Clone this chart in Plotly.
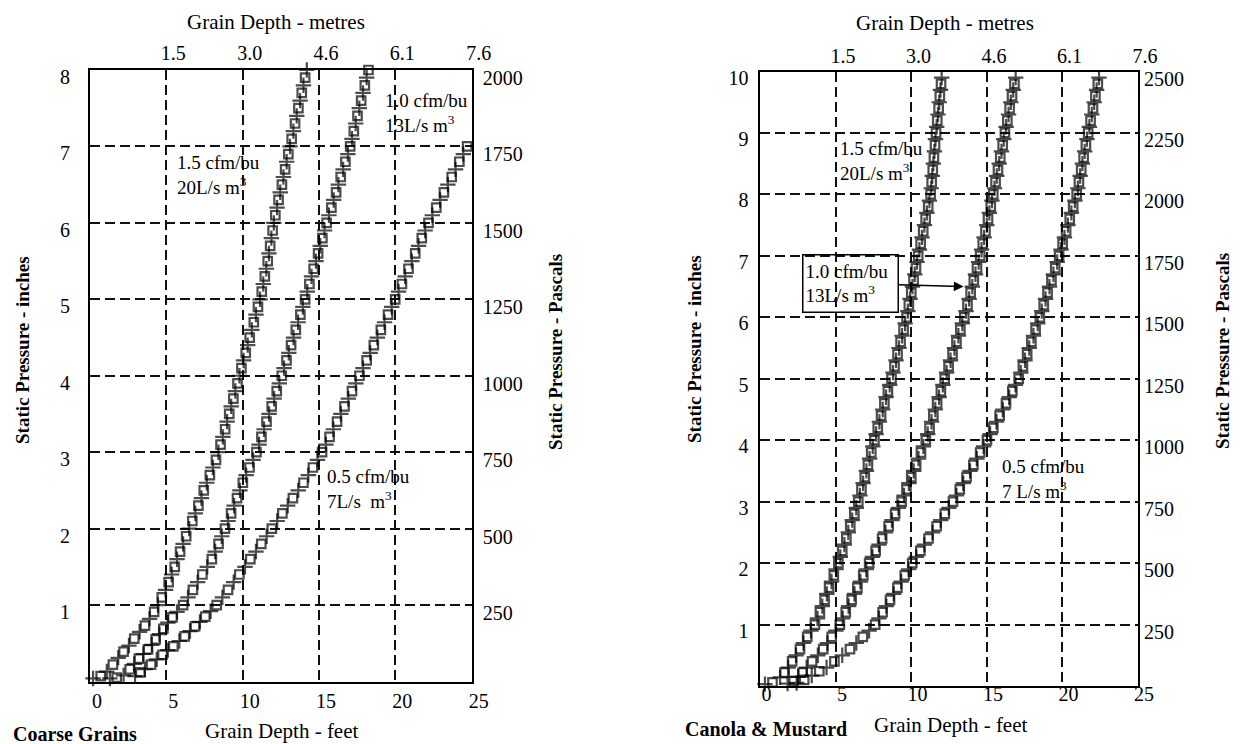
import plotly.graph_objects as go

W, H = 1240, 744
FONT = "Liberation Serif"

# ---------------- data ----------------
x_ticks = [0, 5, 10, 15, 20, 25]
x_tick_text = ["0", "5", "10", "15", "20", "25"]
metre_ticks = [5, 10, 15, 20, 25]
metre_text = ["1.5", "3.0", "4.6", "6.1", "7.6"]

left_in_ticks = [1, 2, 3, 4, 5, 6, 7, 8]
left_pa_ticks = [250, 500, 750, 1000, 1250, 1500, 1750, 2000]
right_in_ticks = [1, 2, 3, 4, 5, 6, 7, 8, 9, 10]
right_pa_ticks = [250, 500, 750, 1000, 1250, 1500, 1750, 2000, 2250, 2500]

# pressure levels (inches of water) at which points were read
left_levels = [1.1, 1.2, 1.3, 1.4, 1.5, 1.6, 1.7, 1.8, 1.9, 2.0,
               2.1, 2.2, 2.3, 2.4, 2.5, 2.6, 2.7, 2.8, 2.9, 3.0,
               3.1, 3.2, 3.3, 3.4, 3.5, 3.6, 3.7, 3.8, 3.9, 4.0,
               4.1, 4.2, 4.3, 4.4, 4.5, 4.6, 4.7, 4.8, 4.9, 5.0,
               5.1, 5.2, 5.3, 5.4, 5.5, 5.6, 5.7, 5.8, 5.9, 6.0,
               6.1, 6.2, 6.3, 6.4, 6.5, 6.6, 6.7, 6.8, 6.9, 7.0,
               7.1, 7.2, 7.3, 7.4, 7.5, 7.6, 7.7, 7.8, 7.9, 8.0]
right_levels = [1.1, 1.2, 1.3, 1.4, 1.5, 1.6, 1.7, 1.8, 1.9, 2.0,
                2.1, 2.2, 2.3, 2.4, 2.5, 2.6, 2.7, 2.8, 2.9, 3.0,
                3.1, 3.2, 3.3, 3.4, 3.5, 3.6, 3.7, 3.8, 3.9, 4.0,
                4.1, 4.2, 4.3, 4.4, 4.5, 4.6, 4.7, 4.8, 4.9, 5.0,
                5.1, 5.2, 5.3, 5.4, 5.5, 5.6, 5.7, 5.8, 5.9, 6.0,
                6.1, 6.2, 6.3, 6.4, 6.5, 6.6, 6.7, 6.8, 6.9, 7.0,
                7.1, 7.2, 7.3, 7.4, 7.5, 7.6, 7.7, 7.8, 7.9, 8.0,
                8.1, 8.2, 8.3, 8.4, 8.5, 8.6, 8.7, 8.8, 8.9, 9.0,
                9.1, 9.2, 9.3, 9.4, 9.5, 9.6, 9.7, 9.8, 9.9]

# ---- Coarse grains (left chart) : grain depth in feet ----
cg15_low_x = [0.2, 0.7, 1.1, 1.5, 1.85, 2.2, 2.55, 2.9, 3.25, 3.6, 3.9, 4.2, 4.45]
cg15_low_y = [0.04, 0.07, 0.13, 0.22, 0.31, 0.39, 0.47, 0.56, 0.65, 0.73, 0.82, 0.91, 1.0]
cg15_x = [4.7, 4.95, 5.15, 5.35, 5.55, 5.7, 5.9, 6.1, 6.3, 6.5,
          6.7, 6.9, 7.1, 7.3, 7.45, 7.65, 7.85, 8.05, 8.25, 8.41,
          8.55, 8.7, 8.85, 8.98, 9.12, 9.25, 9.39, 9.52, 9.66, 9.79,
          9.92, 10.06, 10.2, 10.33, 10.46, 10.6, 10.73, 10.87, 11.0, 11.14,
          11.25, 11.35, 11.45, 11.55, 11.64, 11.72, 11.8, 11.88, 11.96, 12.04,
          12.14, 12.25, 12.35, 12.46, 12.57, 12.67, 12.78, 12.88, 12.99, 13.1,
          13.21, 13.32, 13.43, 13.54, 13.65, 13.76, 13.87, 13.98, 14.09, 14.2]

cg10_low_x = [1.3, 1.75, 2.2, 2.6, 2.9, 3.2, 3.5, 3.8, 4.05, 4.3, 4.55, 4.8, 5.1, 5.4, 5.7, 6.1]
cg10_low_y = [0.04, 0.05, 0.08, 0.16, 0.23, 0.3, 0.36, 0.42, 0.48, 0.55, 0.62, 0.69, 0.77, 0.84, 0.91, 1.0]
cg10_x = [6.42, 6.74, 7.05, 7.36, 7.68, 7.98, 8.2, 8.42, 8.63, 8.84,
          9.04, 9.24, 9.44, 9.63, 9.82, 10.01, 10.23, 10.45, 10.68, 10.9,
          11.07, 11.23, 11.4, 11.56, 11.73, 11.9, 12.06, 12.23, 12.4, 12.56,
          12.71, 12.87, 13.02, 13.17, 13.33, 13.48, 13.63, 13.78, 13.94, 14.09,
          14.23, 14.37, 14.51, 14.65, 14.8, 14.94, 15.08, 15.22, 15.36, 15.5,
          15.65, 15.81, 15.96, 16.12, 16.27, 16.42, 16.58, 16.73, 16.89, 17.04,
          17.16, 17.28, 17.4, 17.52, 17.64, 17.76, 17.88, 18.0, 18.12, 18.24]

cg05_low_x = [2.95, 3.3, 3.6, 4.0, 4.37, 4.75, 5.1, 5.46, 5.85, 6.2, 6.55, 6.88, 7.2, 7.55, 7.9, 8.3]
cg05_low_y = [0.07, 0.12, 0.16, 0.22, 0.29, 0.35, 0.41, 0.46, 0.53, 0.59, 0.66, 0.72, 0.78, 0.85, 0.92, 1.0]
cg05_x = [8.67, 9.04, 9.41, 9.78, 10.15, 10.5, 10.87, 11.22, 11.57, 11.91,
          12.26, 12.6, 12.95, 13.29, 13.64, 13.98, 14.3, 14.6, 14.9, 15.2,
          15.45, 15.69, 15.94, 16.18, 16.43, 16.67, 16.92, 17.16, 17.41, 17.65,
          17.88, 18.12, 18.35, 18.59, 18.82, 19.05, 19.29, 19.52, 19.76, 19.99,
          20.21, 20.43, 20.64, 20.86, 21.08, 21.3, 21.52, 21.73, 21.95, 22.17,
          22.42, 22.68, 22.93, 23.18, 23.44, 23.69, 23.94, 24.19, 24.45, 24.7]

# ---- Canola & Mustard (right chart) ----
cm15_low_x = [0.3, 0.8, 1.3, 1.6, 1.84, 2.1, 2.36, 2.62, 2.85, 3.1, 3.35, 3.61]
cm15_low_y = [0.03, 0.06, 0.14, 0.22, 0.3, 0.4, 0.5, 0.6, 0.7, 0.8, 0.9, 1.0]
cm15_x = [3.78, 3.94, 4.1, 4.25, 4.4, 4.55, 4.71, 4.86, 5.01, 5.16,
          5.29, 5.42, 5.56, 5.69, 5.82, 5.95, 6.08, 6.22, 6.35, 6.48,
          6.59, 6.69, 6.8, 6.91, 7.02, 7.12, 7.23, 7.34, 7.44, 7.55,
          7.66, 7.77, 7.88, 7.99, 8.1, 8.21, 8.32, 8.44, 8.56, 8.68,
          8.78, 8.88, 8.98, 9.08, 9.18, 9.28, 9.38, 9.48, 9.58, 9.68,
          9.76, 9.83, 9.91, 9.99, 10.07, 10.14, 10.22, 10.3, 10.37, 10.45,
          10.53, 10.61, 10.7, 10.78, 10.86, 10.94, 11.02, 11.11, 11.19, 11.27,
          11.31, 11.34, 11.38, 11.41, 11.45, 11.49, 11.52, 11.56, 11.59, 11.63,
          11.67, 11.71, 11.76, 11.8, 11.84, 11.88, 11.92, 11.96, 12.0]

cm10_low_x = [1.8, 2.2, 2.5, 2.8, 3.06, 3.42, 3.8, 4.16, 4.44, 4.72, 5.0, 5.26]
cm10_low_y = [0.04, 0.08, 0.15, 0.22, 0.3, 0.4, 0.5, 0.6, 0.7, 0.8, 0.9, 1.0]
cm10_x = [5.45, 5.65, 5.84, 6.04, 6.23, 6.42, 6.62, 6.81, 7.01, 7.2,
          7.42, 7.63, 7.85, 8.06, 8.28, 8.49, 8.71, 8.92, 9.14, 9.35,
          9.51, 9.67, 9.83, 9.99, 10.15, 10.31, 10.47, 10.63, 10.79, 10.95,
          11.08, 11.2, 11.33, 11.45, 11.58, 11.7, 11.83, 11.95, 12.08, 12.2,
          12.33, 12.46, 12.59, 12.72, 12.85, 12.98, 13.11, 13.24, 13.37, 13.5,
          13.61, 13.71, 13.82, 13.92, 14.03, 14.13, 14.24, 14.34, 14.45, 14.55,
          14.64, 14.72, 14.81, 14.9, 14.99, 15.07, 15.16, 15.25, 15.33, 15.42,
          15.5, 15.57, 15.65, 15.73, 15.81, 15.88, 15.96, 16.04, 16.11, 16.19,
          16.27, 16.35, 16.43, 16.5, 16.58, 16.66, 16.74, 16.82, 16.9]

cm05_low_x = [2.4, 2.9, 3.4, 3.9, 4.38, 4.9, 5.42, 5.93, 6.35, 6.78, 7.2, 7.6]
cm05_low_y = [0.05, 0.1, 0.17, 0.24, 0.3, 0.4, 0.5, 0.6, 0.7, 0.8, 0.9, 1.0]
cm05_x = [7.85, 8.09, 8.34, 8.58, 8.83, 9.07, 9.32, 9.56, 9.81, 10.05,
          10.32, 10.59, 10.86, 11.13, 11.4, 11.67, 11.94, 12.21, 12.48, 12.75,
          12.98, 13.2, 13.43, 13.65, 13.88, 14.1, 14.33, 14.55, 14.78, 15.0,
          15.21, 15.42, 15.63, 15.84, 16.05, 16.26, 16.47, 16.68, 16.89, 17.1,
          17.24, 17.38, 17.52, 17.66, 17.8, 17.94, 18.08, 18.22, 18.36, 18.5,
          18.63, 18.76, 18.88, 19.01, 19.14, 19.27, 19.4, 19.52, 19.65, 19.78,
          19.9, 20.01, 20.13, 20.24, 20.36, 20.48, 20.59, 20.71, 20.82, 20.94,
          21.02, 21.09, 21.17, 21.24, 21.32, 21.4, 21.47, 21.55, 21.62, 21.7,
          21.78, 21.86, 21.94, 22.02, 22.1, 22.18, 22.26, 22.34, 22.42]

# ---------------- figure ----------------
fig = go.Figure()


def add_curve(low_x, low_y, xs, levels, xa, ya):
    xx = list(low_x) + list(xs)
    yy = list(low_y) + list(levels[:len(xs)])
    n = len(xx)
    syms = ["cross-thin-open" if i % 2 == 0 else "square-open" for i in range(n)]
    sizes = [11 if i % 2 == 0 else 8.5 for i in range(n)]
    fig.add_trace(go.Scatter(
        x=xx, y=yy, xaxis=xa, yaxis=ya, mode="markers",
        marker=dict(symbol=syms, size=sizes, color="black",
                    line=dict(color="black", width=2.2)),
        showlegend=False, hoverinfo="skip", cliponaxis=False))


add_curve(cg15_low_x, cg15_low_y, cg15_x, left_levels, "x", "y")
add_curve(cg10_low_x, cg10_low_y, cg10_x, left_levels, "x", "y")
add_curve(cg05_low_x, cg05_low_y, cg05_x, left_levels, "x", "y")
add_curve(cm15_low_x, cm15_low_y, cm15_x, right_levels, "x3", "y3")
add_curve(cm10_low_x, cm10_low_y, cm10_x, right_levels, "x3", "y3")
add_curve(cm05_low_x, cm05_low_y, cm05_x, right_levels, "x3", "y3")

# invisible traces so secondary axes are drawn
for xa, ya in [("x2", "y"), ("x", "y2"), ("x4", "y3"), ("x3", "y4")]:
    fig.add_trace(go.Scatter(x=[None], y=[None], xaxis=xa, yaxis=ya, mode="markers",
                             showlegend=False, hoverinfo="skip"))

tickfont = dict(family=FONT, size=20, color="black")
base = dict(zeroline=False, ticks="", tickfont=tickfont, fixedrange=True, automargin=False)
main = dict(base, showline=True, linecolor="black", linewidth=2, mirror=True,
            showgrid=True, gridcolor="#111111", gridwidth=1.8, griddash="10px,5px")
sec = dict(base, showline=False, showgrid=False)

L_x0, L_x1, L_y0, L_y1 = 90, 471.7, 70, 681.5
R_x0, R_x1, R_y0, R_y1 = 760.4, 1138, 71.5, 686

fig.update_layout(
    width=W, height=H, margin=dict(l=0, r=0, t=0, b=0, pad=0, autoexpand=False),
    paper_bgcolor="white", plot_bgcolor="white",
    xaxis=dict(main, domain=[L_x0 / W, L_x1 / W], range=[0, 25], anchor="y",
               tickvals=x_ticks, ticktext=x_tick_text, ticklabelshift=7, ticklabelstandoff=0),
    yaxis=dict(main, domain=[1 - L_y1 / H, 1 - L_y0 / H], range=[0, 8], anchor="x",
               tickvals=left_in_ticks, ticktext=[str(v) for v in left_in_ticks],
               ticklabelshift=7, ticklabelstandoff=14),
    xaxis2=dict(sec, overlaying="x", side="top", anchor="y", range=[0, 25],
                tickvals=metre_ticks, ticktext=metre_text, ticklabelshift=7, ticklabelstandoff=5),
    yaxis2=dict(sec, overlaying="y", side="right", anchor="x", range=[0, 2000],
                tickvals=left_pa_ticks, ticktext=[str(v) for v in left_pa_ticks],
                ticklabelshift=8, ticklabelstandoff=10),
    xaxis3=dict(main, domain=[R_x0 / W, R_x1 / W], range=[0, 25], anchor="y3",
                tickvals=x_ticks, ticktext=x_tick_text, ticklabelshift=6, ticklabelstandoff=-11),
    yaxis3=dict(main, domain=[1 - R_y1 / H, 1 - R_y0 / H], range=[0, 10], anchor="x3",
                tickvals=right_in_ticks, ticktext=[str(v) for v in right_in_ticks],
                ticklabelshift=6, ticklabelstandoff=6),
    xaxis4=dict(sec, overlaying="x3", side="top", anchor="y3", range=[0, 25],
                tickvals=metre_ticks, ticktext=metre_text, ticklabelshift=7, ticklabelstandoff=4),
    yaxis4=dict(sec, overlaying="y3", side="right", anchor="x3", range=[0, 2500],
                tickvals=right_pa_ticks, ticktext=[str(v) for v in right_pa_ticks],
                ticklabelshift=7, ticklabelstandoff=5),
)


def px_ann(text, px, py, size=18, xanchor="center", yanchor="middle", bold=False, angle=0, align="left"):
    if bold:
        text = "<b>" + text + "</b>"
    fig.add_annotation(text=text, x=px / W, y=1 - py / H, xref="paper", yref="paper",
                       xanchor=xanchor, yanchor=yanchor, showarrow=False, textangle=angle,
                       align=align, font=dict(family=FONT, size=size, color="black"))


# axis titles
px_ann("Grain Depth - metres", 276, 22, size=21)
px_ann("Grain Depth - metres", 945, 23, size=21)
px_ann("Grain Depth - feet", 282, 731, size=21)
px_ann("Grain Depth - feet", 951, 725, size=21)
px_ann("Static Pressure - inches", 22, 350, size=19, bold=True, angle=-90)
px_ann("Static Pressure - Pascals", 555, 352, size=19, bold=True, angle=-90)
px_ann("Static Pressure - inches", 694, 349, size=19, bold=True, angle=-90)
px_ann("Static Pressure - Pascals", 1222, 351, size=19, bold=True, angle=-90)
px_ann("Coarse Grains", 75, 734, size=20, bold=True)
px_ann("Canola &amp; Mustard", 766, 729, size=20, bold=True)

# curve labels
px_ann("1.0 cfm/bu<br>13L/s m<sup>3</sup>", 383, 113, size=19, xanchor="left")
px_ann("1.5 cfm/bu<br>20L/s m<sup>3</sup>", 175, 175, size=19, xanchor="left")
px_ann("0.5 cfm/bu<br>7L/s  m<sup>3</sup>", 325, 489, size=19, xanchor="left")
px_ann("1.5 cfm/bu<br>20L/s m<sup>3</sup>", 838, 161, size=19, xanchor="left")
px_ann("0.5 cfm/bu<br>7 L/s m<sup>3</sup>", 1000, 479, size=19, xanchor="left")

# boxed label with arrow (right chart)
fig.add_annotation(text="1.0 cfm/bu<br>13L/s m<sup>3</sup>", x=13.45, y=6.5, xref="x3", yref="y3",
                   showarrow=True, ax=-113, ay=-3, arrowhead=2, arrowsize=1.3, arrowwidth=1.5,
                   arrowcolor="black", standoff=0, bordercolor="black", borderwidth=1.5,
                   borderpad=2, width=90, height=52, align="left",
                   font=dict(family=FONT, size=19, color="black"))

fig.write_html("out.html")
